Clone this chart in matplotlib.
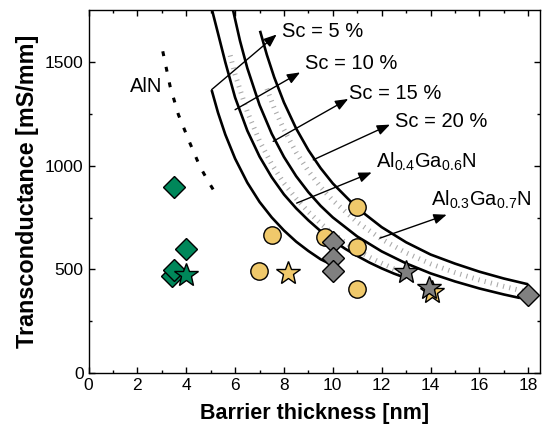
import matplotlib
matplotlib.use("Agg")
import matplotlib.pyplot as plt

plt.rcParams['font.family'] = ['Liberation Sans', 'DejaVu Sans']
plt.rcParams['mathtext.fontset'] = 'custom'
plt.rcParams['mathtext.rm'] = 'Liberation Sans'
plt.rcParams['mathtext.default'] = 'regular'

# ---------------- data ----------------
# Sc-content model curves
sc5_x = [5.04, 5.3, 5.6, 6.0, 6.5, 7.0, 7.5, 8.0, 8.5, 9.0, 9.5, 10.0]
sc5_y = [1366, 1257, 1151, 1035, 919, 826, 751, 688, 634, 589, 549, 520]

sc10_x = [5.04, 5.3, 5.6, 6.0, 6.5, 7.0, 7.5, 8.0, 8.5, 9.0, 9.5, 10.0, 10.5, 11.0, 11.5, 12.0, 12.5, 13.0]
sc10_y = [1760, 1640, 1500, 1330, 1170, 1045, 945, 862, 795, 737, 685, 640, 600, 565, 533, 505, 480, 458]

sc15_x = [5.90, 6.2, 6.5, 7.0, 7.5, 8.0, 8.5, 9.0, 9.5, 10.0, 11.0, 12.0, 13.0, 14.0, 15.0, 16.0, 17.0, 17.66]
sc15_y = [1760, 1604, 1472, 1294, 1155, 1043, 950, 873, 807, 751, 659, 587, 529, 481, 442, 408, 379, 362]

sc20_x = [7.02, 7.3, 7.6, 8.0, 8.5, 9.0, 9.5, 10.0, 11.0, 12.0, 13.0, 14.0, 15.0, 16.0, 17.0, 18.0]
sc20_y = [1652, 1536, 1428, 1306, 1180, 1076, 989, 915, 796, 704, 631, 572, 528, 489, 456, 428]

# AlGaN model curves (hatched grey)
al04_x = [5.8, 6.0, 6.5, 7.0, 7.5, 8.0, 8.5, 9.0, 9.5, 10.0, 10.5, 11.0, 11.5, 12.0, 12.5, 13.0]
al04_y = [1533, 1441, 1261, 1120, 1008, 916, 842, 778, 722, 673, 631, 593, 559, 530, 503, 479]

al03_x = [7.3, 7.6, 8.0, 8.5, 9.0, 9.5, 10.0, 11.0, 12.0, 13.0, 14.0, 15.0, 16.0, 17.0, 17.8]
al03_y = [1372, 1279, 1175, 1065, 975, 898, 833, 728, 646, 580, 527, 485, 449, 418, 395]

# AlN curve (dotted)
aln_x = [3.04, 3.34, 3.68, 4.15, 4.56, 4.90, 5.18]
aln_y = [1553, 1384, 1247, 1110, 997, 925, 871]

# measured devices
green_d_x = [3.50, 3.99, 3.40, 3.50]
green_d_y = [897, 598, 469, 498]
green_s_x = [3.99]
green_s_y = [474]

yellow_c_x = [7.50, 6.99, 9.68, 10.97, 10.97, 10.97]
yellow_c_y = [667, 490, 658, 799, 610, 407]
yellow_s_x = [8.17, 14.07]
yellow_s_y = [485, 392]

gray_d_x = [10.0, 10.0, 10.0, 18.0]
gray_d_y = [632, 556, 491, 378]
gray_s_x = [12.98, 13.95]
gray_s_y = [489, 410]

# labels: text, text position (left, centre), arrow tail, arrow head
labels = ['Sc = 5 %', 'Sc = 10 %', 'Sc = 15 %', 'Sc = 20 %',
          'Al$_{0.4}$Ga$_{0.6}$N', 'Al$_{0.3}$Ga$_{0.7}$N']
label_pos = [(7.91, 1648), (8.86, 1493), (10.66, 1348), (12.55, 1213), (11.77, 1020), (14.01, 836)]
arrow_tail = [(5.04, 1368), (6.00, 1271), (7.56, 1118), (9.20, 1029), (8.52, 820), (11.93, 651)]
arrow_head = [(7.70, 1634), (8.66, 1451), (10.63, 1323), (12.34, 1199), (11.59, 968), (14.66, 764)]

# ---------------- figure ----------------
fig = plt.figure(figsize=(5.44, 4.37), dpi=100)
ax = fig.add_axes([0.1627, 0.1465, 0.9926 - 0.1627, 0.976 - 0.1465])

GREEN = '#00875a'
YELLOW = '#f0c96b'
GRAY = '#808080'

# hatched grey AlGaN curves
for xs, ys in [(al04_x, al04_y), (al03_x, al03_y)]:
    ax.plot(xs, ys, color='#aaaaaa', lw=3.6, linestyle=(0, (0.22, 1.05)),
            solid_capstyle='butt', dash_capstyle='butt', zorder=2)

for xs, ys in [(sc5_x, sc5_y), (sc10_x, sc10_y), (sc15_x, sc15_y), (sc20_x, sc20_y)]:
    ax.plot(xs, ys, color='black', lw=1.9, zorder=3, solid_capstyle='butt')

ax.plot(aln_x, aln_y, color='black', lw=2.2, linestyle=(0, (1.6, 3.6)),
        dash_capstyle='butt', zorder=3)

mk = dict(markeredgecolor='black', markeredgewidth=1.0, linestyle='none', zorder=5)
ax.plot(yellow_c_x, yellow_c_y, marker='o', ms=12.5, markerfacecolor=YELLOW, **mk)
ax.plot(yellow_s_x, yellow_s_y, marker='*', ms=18, markerfacecolor=YELLOW, **mk)
ax.plot(gray_d_x, gray_d_y, marker='D', ms=11.5, markerfacecolor=GRAY, **mk)
ax.plot(gray_s_x, gray_s_y, marker='*', ms=18, markerfacecolor=GRAY, **mk)
ax.plot(green_d_x, green_d_y, marker='D', ms=11.5, markerfacecolor=GREEN, **mk)
ax.plot(green_s_x, green_s_y, marker='*', ms=18, markerfacecolor=GREEN, **mk)

for txt, pos, tail, head in zip(labels, label_pos, arrow_tail, arrow_head):
    ax.annotate('', xy=head, xytext=tail,
                arrowprops=dict(arrowstyle='-|>,head_length=0.55,head_width=0.22',
                                color='black', lw=1.0, mutation_scale=14,
                                shrinkA=0, shrinkB=0), zorder=4)
    ax.text(pos[0], pos[1], txt, fontsize=14.5, ha='left', va='center', zorder=6)

ax.text(1.70, 1384, 'AlN', fontsize=14.5, ha='left', va='center')

ax.set_xlim(0, 18.48)
ax.set_ylim(0, 1750)
ax.set_xticks(range(0, 19, 2))
ax.set_xticks(range(1, 19, 2), minor=True)
ax.set_yticks([0, 500, 1000, 1500])
ax.set_yticks([250, 750, 1250], minor=True)
ax.tick_params(which='both', direction='in', top=True, right=True, labelsize=12.5, width=1.0)
ax.tick_params(which='major', length=4.5)
ax.tick_params(which='minor', length=2.5)
for s in ax.spines.values():
    s.set_linewidth(1.0)

ax.set_xlabel('Barrier thickness [nm]', fontsize=15.5, fontweight='bold', labelpad=7)
ax.set_ylabel('Transconductance [mS/mm]', fontsize=16.8, fontweight='bold', labelpad=4)

fig.savefig('out.png', dpi=100)
